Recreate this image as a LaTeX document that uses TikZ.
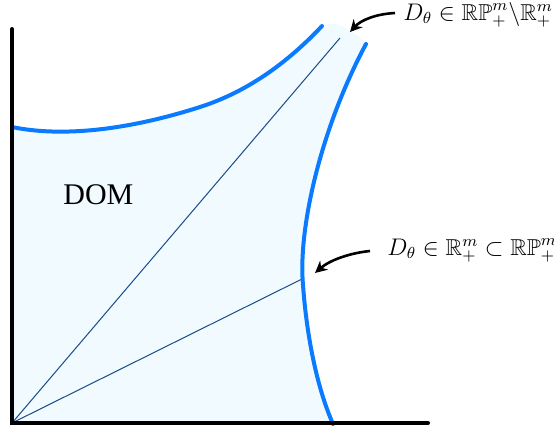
\documentclass[tikz,border=0pt]{standalone}
\usepackage{amssymb}
\usepackage{fontspec}
\setmainfont{Liberation Serif}
\usetikzlibrary{arrows.meta}
\definecolor{curveblue}{RGB}{10,122,255}
\definecolor{fillblue}{RGB}{240,250,255}
\definecolor{rayblue}{RGB}{25,75,135}
\tikzset{
  axis/.style={line width=2pt, black},
  bound/.style={line width=2pt, curveblue, line cap=round},
  ray/.style={line width=0.5pt, rayblue},
  pointer/.style={line width=1.3pt, black, -{Stealth[length=6pt,width=6pt]}},
  mlabel/.style={inner sep=0pt, anchor=base west, font=\fontsize{11.5}{14}\selectfont},
}
\begin{document}
\begin{tikzpicture}[x=0.5pt,y=-0.5pt]
\useasboundingbox (0,0) rectangle (554,430);
\coordinate (O) at (12,423);
\coordinate (a1) at (12,127);
\coordinate (a2) at (322,26);
\coordinate (b1) at (366,44);
\coordinate (b2) at (333,424);
% region fill
\fill[fillblue] (O) -- (a1)
  .. controls (60,137) and (125,131) .. (200,107)
  .. controls (250,91) and (290,60) .. (a2)
  .. controls (334,20) and (344,27) .. (350,31)
  .. controls (356,35) and (362,38) .. (b1)
  .. controls (320,130) and (298,230) .. (303,285)
  .. controls (307,340) and (318,390) .. (b2)
  -- (333,423) -- cycle;
% rays
\coordinate (r1) at (340,38);
\coordinate (r2) at (302,279);
\draw[ray] (O) -- (r1);
\draw[ray] (O) -- (r2);
% boundaries
\draw[bound] (a1) .. controls (60,137) and (125,131) .. (200,107)
  .. controls (250,91) and (290,60) .. (a2);
\draw[bound] (b1) .. controls (320,130) and (298,230) .. (303,285)
  .. controls (307,340) and (318,390) .. (b2);
% axes
\coordinate (ytop) at (12,29);
\coordinate (xend) at (428,423);
\draw[axis, line cap=round] (ytop) -- (O) -- (xend);
% labels
\node[inner sep=0pt, anchor=base west, font=\fontsize{15}{18}\selectfont] (dom) at (63,204) {DOM};
\node[mlabel] (l1) at (403,20) {$D_\theta\in\mathbb{RP}^m_+\backslash\mathbb{R}^m_+$};
\node[mlabel] (l2) at (387,255) {$D_\theta\in\mathbb{R}^m_+\subset\mathbb{RP}^m_+$};
% pointers
\coordinate (t1) at (395,13);
\coordinate (h1) at (350,32);
\coordinate (t2) at (370,251);
\coordinate (h2) at (315,273);
\draw[pointer] (t1) .. controls (376,14) and (361,20) .. (h1);
\draw[pointer] (t2) .. controls (350,253) and (330,260) .. (h2);
\end{tikzpicture}
\end{document}
